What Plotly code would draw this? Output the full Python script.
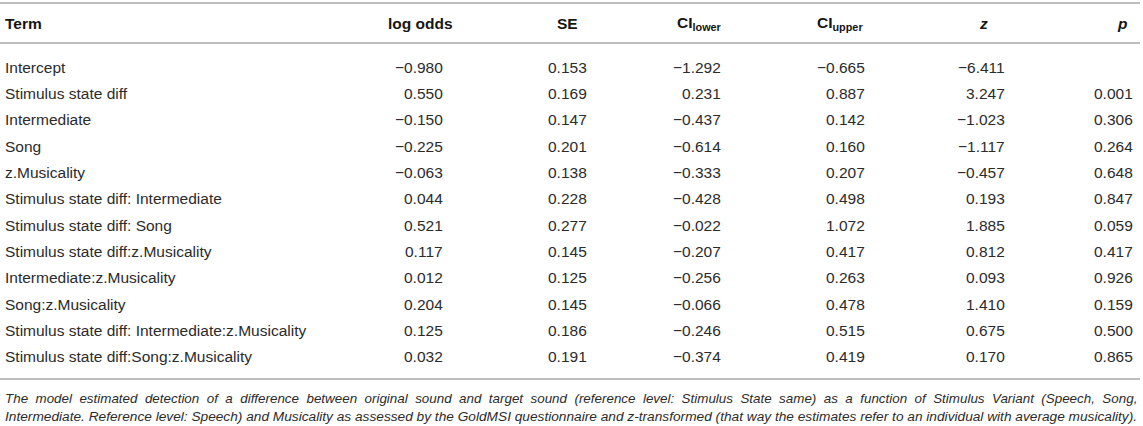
import plotly.graph_objects as go

# table values
terms = [
    "Intercept",
    "Stimulus state diff",
    "Intermediate",
    "Song",
    "z.Musicality",
    "Stimulus state diff: Intermediate",
    "Stimulus state diff: Song",
    "Stimulus state diff:z.Musicality",
    "Intermediate:z.Musicality",
    "Song:z.Musicality",
    "Stimulus state diff: Intermediate:z.Musicality",
    "Stimulus state diff:Song:z.Musicality",
]
log_odds = [-0.980, 0.550, -0.150, -0.225, -0.063, 0.044, 0.521, 0.117, 0.012, 0.204, 0.125, 0.032]
se = [0.153, 0.169, 0.147, 0.201, 0.138, 0.228, 0.277, 0.145, 0.125, 0.145, 0.186, 0.191]
ci_lower = [-1.292, 0.231, -0.437, -0.614, -0.333, -0.428, -0.022, -0.207, -0.256, -0.066, -0.246, -0.374]
ci_upper = [-0.665, 0.887, 0.142, 0.160, 0.207, 0.498, 1.072, 0.417, 0.263, 0.478, 0.515, 0.419]
z_vals = [-6.411, 3.247, -1.023, -1.117, -0.457, 0.193, 1.885, 0.812, 0.093, 1.410, 0.675, 0.170]
p_vals = [None, 0.001, 0.306, 0.264, 0.648, 0.847, 0.059, 0.417, 0.926, 0.159, 0.500, 0.865]

headers = ["log odds", "SE", "CI<sub>lower</sub>", "CI<sub>upper</sub>", "<i>z</i>", "<i>p</i>"]

footnote = [
    "The model estimated detection of a difference between original sound and target sound (reference level: Stimulus State same) as a function of Stimulus Variant (Speech, Song,",
    "Intermediate. Reference level: Speech) and Musicality as assessed by the GoldMSI questionnaire and z-transformed (that way the estimates refer to an individual with average musicality).",
]

W, H = 1143, 426
FONT = "Liberation Sans, Arial, sans-serif"
TXT = "#2b2b2b"
HEAD = "#151515"
RULE = "#bcbcbc"
FS = 15.5

# right edge of the numbers / centre of the header, per column
col_right = [445, 589, 723, 867, 1007, 1135]
head_x = [420, 567, 699, 840, 983, 1122]


def fmt(v):
    s = "%.3f" % abs(v)
    return ("\u2212" + s) if v < 0 else s


def row_y(i):
    return 67 + i * 26.36


columns = [log_odds, se, ci_lower, ci_upper, z_vals, p_vals]

ann = []
ann.append(dict(x=3, y=23, text="<b>Term</b>", xanchor="left", font=dict(size=FS, color=HEAD)))
for hx, h in zip(head_x, headers):
    ann.append(dict(x=hx, y=23, text="<b>" + h + "</b>", xanchor="center",
                    font=dict(size=FS, color=HEAD)))

for i, t in enumerate(terms):
    ann.append(dict(x=3, y=row_y(i), text=t, xanchor="left", font=dict(size=FS, color=TXT)))
    for cx, col in zip(col_right, columns):
        if col[i] is None:
            continue
        ann.append(dict(x=cx, y=row_y(i), text=fmt(col[i]), xanchor="right",
                        font=dict(size=FS, color=TXT)))

# first footnote line is justified in the original: widen the word gaps
note_lines = [footnote[0].replace(" ", " \u00a0"), footnote[1]]
note_sizes = [13.4, 13.7]
for k, line in enumerate(note_lines):
    ann.append(dict(x=3, y=398 + k * 18, text="<i>" + line + "</i>", xanchor="left",
                    font=dict(size=note_sizes[k], color=TXT)))

for a in ann:
    a.update(xref="x", yref="y", yanchor="middle", showarrow=False)
    a["font"]["family"] = FONT

shapes = [dict(type="line", xref="x", yref="y", x0=0, x1=1140, y0=yy, y1=yy,
               line=dict(color=RULE, width=2)) for yy in (3, 43, 379)]

fig = go.Figure()
fig.update_layout(
    width=W, height=H,
    margin=dict(l=0, r=0, t=0, b=0),
    paper_bgcolor="white", plot_bgcolor="white",
    xaxis=dict(range=[0, W], visible=False, fixedrange=True),
    yaxis=dict(range=[H, 0], visible=False, fixedrange=True),
    annotations=ann, shapes=shapes, showlegend=False,
)
fig.write_html("out.html", config={"displayModeBar": False},
               post_script="document.body.style.margin='0px';")
